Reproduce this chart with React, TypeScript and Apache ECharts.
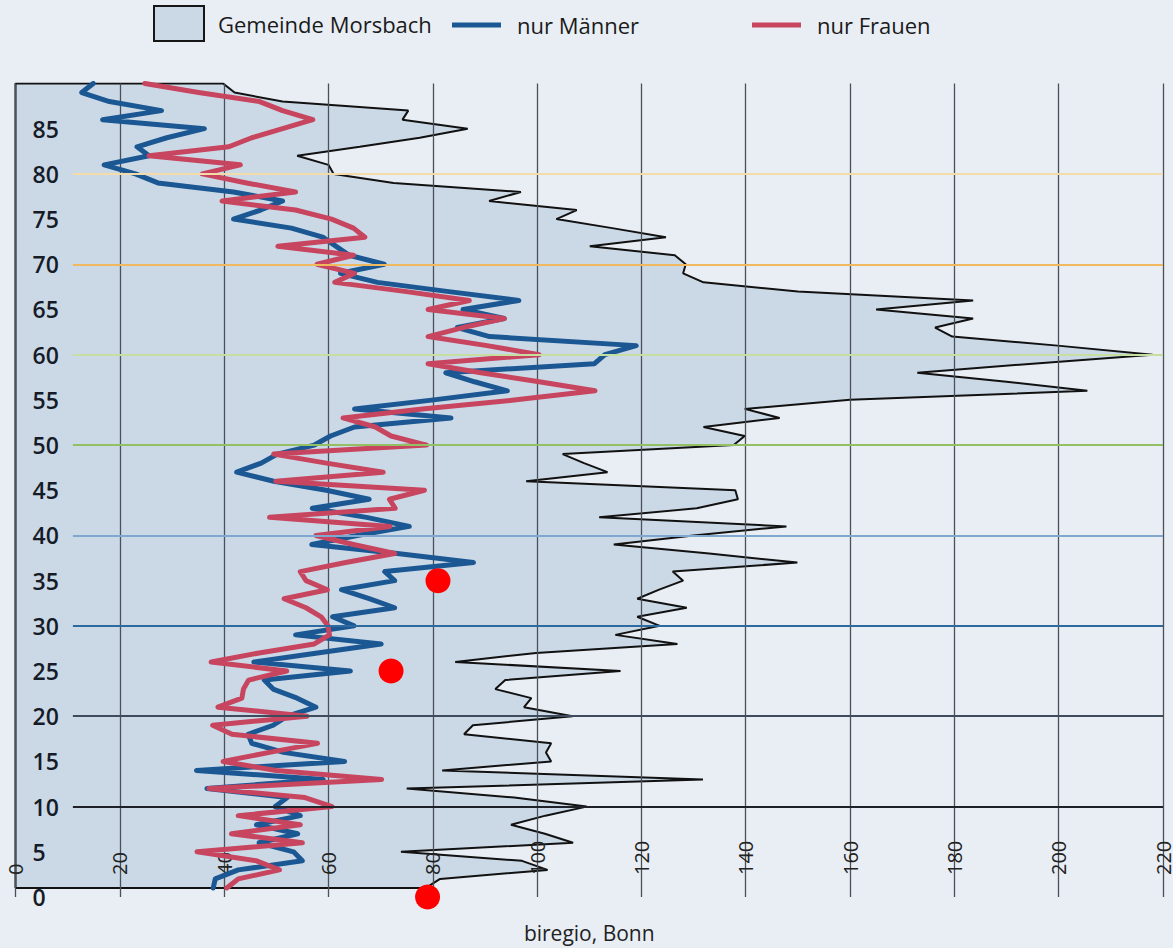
import React, { useEffect, useRef } from "react";
import * as echarts from "echarts";

// Alter 0..89 (plotted as Lebensjahr 1..90 on the age axis)
const ages = Array.from({ length: 90 }, (_, i) => i);
// age axis ticks 0..90
const ageTicks = Array.from({ length: 91 }, (_, i) => String(i));

// Gemeinde Morsbach (total), index = age
const gemeinde = [
  78.7, 81.4, 102, 97.1, 73.9, 106.9, 101.5, 95, 101.6, 109.5,
  95.6, 75, 131.8, 81.8, 102.7, 101.7, 102.7, 86, 87.7, 106.8,
  97.5, 98.9, 92, 93.9, 116, 84.3, 99.8, 126.9, 115, 123.5,
  119.2, 128.7, 119.2, 123.4, 128, 126, 149.9, 133, 114.7, 130,
  147.8, 111.9, 130.6, 138.5, 138, 97.9, 113.5, 109, 104.9, 137.7,
  139.8, 131.9, 146.5, 139.8, 160, 205.5, 190, 172.9, 195, 218,
  199.8, 179.6, 176.3, 183.6, 165, 183.6, 150, 131.9, 128, 128.5,
  126.4, 110.1, 124.7, 114.4, 103.7, 107.6, 90.8, 96.9, 72.5, 61,
  60, 54, 66, 77.5, 86.7, 74.2, 75.3, 51.2, 42, 39.8,
];

// nur Männer
const maenner = [
  37.9, 38.3, 42.7, 55, 53.3, 46.7, 54.1, 46.2, 54.6, 49.8,
  52.1, 36.7, 59, 34.7, 63.1, 51.4, 45.3, 44.6, 49.4, 52.1,
  57.6, 54, 49.4, 47.7, 64.2, 45.7, 57.9, 70.1, 53.7, 64.9,
  60.8, 72.7, 67.8, 62.5, 72.7, 70.8, 87.8, 73.2, 56.8, 65.5,
  75.5, 67.3, 56.9, 67.8, 59.6, 49.5, 42.4, 47.1, 50.2, 57.3,
  60.4, 65, 83.5, 65, 80.2, 94.3, 88, 82.5, 111, 113,
  119, 90.9, 84.7, 93.7, 85.8, 96.5, 82.7, 69.4, 62.3, 70.7,
  64, 61.4, 58.9, 52.9, 41.8, 47, 51.2, 41.8, 27.3, 23,
  17, 25.6, 23.3, 29, 36.2, 16.7, 28, 18, 12.7, 14.9,
];

// nur Frauen
const frauen = [
  40.5, 42.7, 50.6, 46.2, 34.8, 55, 41.4, 54.6, 42.7, 60.7,
  55.5, 37.1, 70.2, 50, 39.8, 48.7, 57.9, 41.5, 37.8, 55.9,
  38.8, 43.4, 43.7, 44.7, 52, 37.5, 46.7, 57.3, 60.2, 59.9,
  58.6, 55.7, 51.5, 59.8, 55.7, 54.6, 63.3, 72.7, 64.8, 57.6,
  71.8, 48.7, 72.8, 71.7, 78.4, 49.9, 70.5, 59.6, 49.5, 78.8,
  72, 69, 62.8, 78, 96, 111.1, 100.4, 89.2, 79.1, 100.4,
  90.4, 79.1, 85.8, 93.7, 79.1, 87, 74.6, 61.2, 65, 57.8,
  64.8, 50.3, 67, 64.8, 60.6, 53.7, 39.6, 53.7, 44.3, 35.8,
  43.1, 25.6, 40.9, 45.3, 51.2, 57, 51.2, 46.8, 35.1, 24.8,
];

// red marker dots: value and age-axis position
const markerValues = [79, 72, 81];
const markerAges = [0, 25, 35];

// coloured age guide lines
const guideAges = [10, 20, 30, 40, 50, 60, 70, 80];

export default function App() {
  const ref = useRef<HTMLDivElement>(null);

  useEffect(() => {
    if (!ref.current) return;
    const chart = echarts.init(ref.current, null, { renderer: "svg" });

    const pos = (vals: number[]) => vals.map((v, i) => [v, ages[i] + 1]);
    const topAge = ages[ages.length - 1] + 1;
    const firstAge = ages[0] + 1;
    const outline = [[0, firstAge], ...pos(gemeinde), [0, topAge], [0, firstAge]];

    const guideColors = [
      "#1e2228", "#3e4b5c", "#2d6aa0", "#7ea8d0",
      "#93c062", "#c6dea0", "#f1b95e", "#f4dcaa",
    ];

    const font = "'Open Sans', 'Noto Sans', sans-serif";
    const legendText = { fontSize: 22, color: "#1a1a1a", fontFamily: font };

    chart.setOption({
      animation: false,
      backgroundColor: "#e9eef5",
      grid: { left: 15.5, right: 8, top: 83.5, bottom: 48, containLabel: false },
      legend: [
        {
          left: 153, top: 5, padding: 0, itemWidth: 50, itemHeight: 35, selectedMode: false,
          data: [{ name: "Gemeinde Morsbach", icon: "rect",
            itemStyle: { color: "#cbd9e7", borderColor: "#161616", borderWidth: 2 } }],
          textStyle: { ...legendText, padding: [0, 0, 0, 9] },
        },
        {
          left: 452, top: 14, padding: 0, itemWidth: 49, itemHeight: 5, selectedMode: false,
          data: [{ name: "nur Männer", icon: "rect" }],
          textStyle: { ...legendText, padding: [0, 0, 0, 11] },
        },
        {
          left: 752, top: 14, padding: 0, itemWidth: 49, itemHeight: 5, selectedMode: false,
          data: [{ name: "nur Frauen", icon: "rect" }],
          textStyle: { ...legendText, padding: [0, 0, 0, 11] },
        },
      ],
      xAxis: {
        type: "value", min: 0, max: 220, interval: 20,
        axisLine: { show: false }, axisTick: { show: false },
        splitLine: { show: true, lineStyle: { color: "#4b5059", width: 1.3 } },
        axisLabel: { inside: true, rotate: 90, margin: 22, fontSize: 20, fontWeight: 500, color: "#222", fontFamily: font },
        name: "biregio, Bonn", nameLocation: "middle", nameGap: 25,
        nameTextStyle: { fontSize: 21, color: "#222", fontFamily: font },
      },
      yAxis: {
        type: "category", data: ageTicks, boundaryGap: false,
        axisLine: { show: false }, axisTick: { show: false }, splitLine: { show: false },
        axisLabel: {
          inside: true, interval: 4, margin: 17,
          formatter: (v: string) => (v === "90" ? "" : v),
          fontSize: 23, fontWeight: 600, color: "#161b28", fontFamily: font,
        },
        z: 5,
      },
      series: [
        {
          name: "Gemeinde Morsbach", type: "line", data: outline, symbol: "none",
          clip: false, z: -1, color: "#cbd9e7",
          lineStyle: { color: "#111", width: 2 },
          areaStyle: { color: "#cbd9e7", opacity: 1 },
        },
        {
          name: "guides", type: "line", data: [], z: 1,
          markLine: {
            silent: true, symbol: ["none", "none"], label: { show: false },
            data: guideAges.map((a, i) => [
              { coord: [11, a], lineStyle: { color: guideColors[i], width: 2.2, type: "solid" } },
              { coord: [220, a] },
            ]),
          },
        },
        {
          name: "nur Männer", type: "line", data: pos(maenner), symbol: "none", z: 3,
          color: "#1b5792",
          lineStyle: { color: "#1b5792", width: 5, join: "round", cap: "round" },
        },
        {
          name: "nur Frauen", type: "line", data: pos(frauen), symbol: "none", z: 4,
          color: "#c7455e",
          lineStyle: { color: "#c7455e", width: 5, join: "round", cap: "round" },
        },
        {
          name: "marker", type: "scatter", z: 10, symbolSize: 25,
          data: markerValues.map((v, i) => [v, markerAges[i]]),
          itemStyle: { color: "#ff0000", opacity: 1 },
        },
      ],
    });

    return () => chart.dispose();
  }, []);

  return (
    <div
      ref={ref}
      style={{ position: "fixed", left: 0, top: 0, width: 1173, height: 948, background: "#e9eef5" }}
    />
  );
}
